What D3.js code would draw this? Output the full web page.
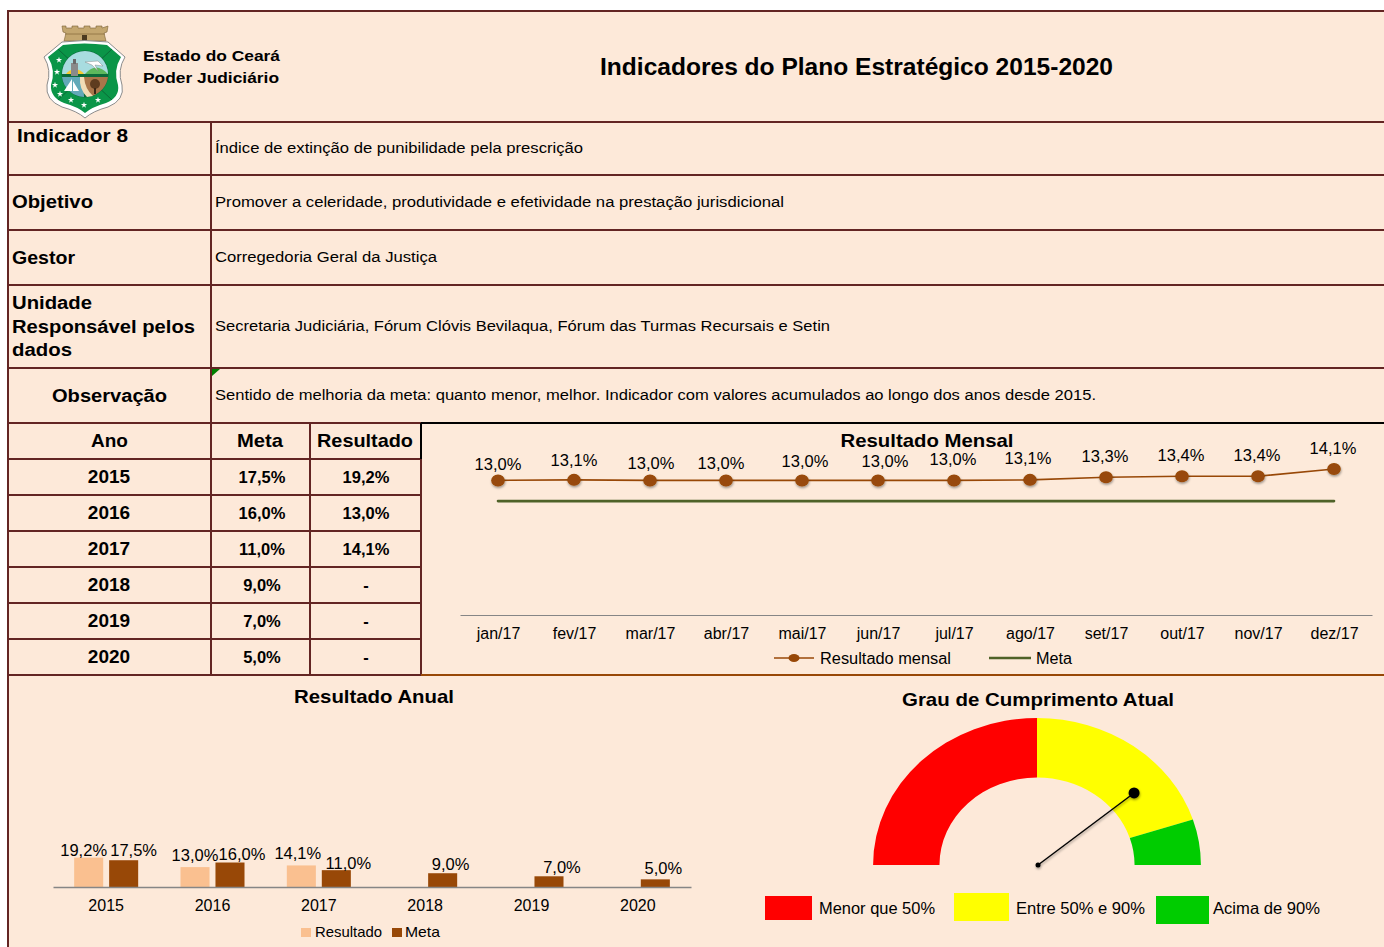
<!DOCTYPE html>
<html>
<head>
<meta charset="utf-8">
<script src="https://cdn.jsdelivr.net/npm/d3@7"></script>
<style>
  html, body { margin: 0; padding: 0; background: #fff; overflow: hidden; }
  svg { display: block; font-family: "Liberation Sans", Arial, sans-serif; }
</style>
</head>
<body>
<svg width="1384" height="947"></svg>
<script>
const years = ['2015', '2016', '2017', '2018', '2019', '2020'];
const metaValues = [17.5, 16.0, 11.0, 9.0, 7.0, 5.0];
const resultValues = [19.2, 13.0, 14.1, null, null, null];

const months = ['jan/17', 'fev/17', 'mar/17', 'abr/17', 'mai/17', 'jun/17',
    'jul/17', 'ago/17', 'set/17', 'out/17', 'nov/17', 'dez/17'];
const monthlyValues = [13.0, 13.05, 13.0, 13.0, 13.0, 13.0, 13.0, 13.05, 13.3, 13.4, 13.4, 14.1];
const monthlyMeta = months.map(() => 11.0);

const gaugeBands = ['Menor que 50%', 'Entre 50% e 90%', 'Acima de 90%'];
const gaugeSizes = [50, 40, 10];
const gaugeValue = 78;

const svg = d3.select('svg');

const BG = '#fde9d9';
const PANEL = '#fdeada';
const BORDER = '#632523';
const BROWN = '#984807';
const PEACH = '#fac090';
const OLIVE = '#4f6228';
const GREY = '#868686';

const br = d3.formatLocale({ decimal: ',', thousands: '.', grouping: [3], currency: ['R$', ''] });
const pct = v => br.format('.1f')(v) + '%';

// Shadow used on the markers and the needle
const defs = svg.append('defs');
defs.append('filter')
    .attr('id', 'shadow')
    .attr('x', '-60%').attr('y', '-60%').attr('width', '220%').attr('height', '220%')
  .append('feDropShadow')
    .attr('dx', 0.5).attr('dy', 1.5).attr('stdDeviation', 1.2)
    .attr('flood-color', '#000').attr('flood-opacity', 0.4);

// Text with a fixed width, the original is slightly stretched
const put = (parent, x, y, str, { size = 15, weight = 'normal', anchor = 'start', width = null } = {}) => {
    const t = parent.append('text')
        .attr('x', x).attr('y', y)
        .attr('font-size', size)
        .attr('font-weight', weight)
        .attr('text-anchor', anchor)
        .attr('fill', '#000')
        .text(str);
    if (width) t.attr('textLength', width).attr('lengthAdjust', 'spacingAndGlyphs');
    return t;
};

// ---------- sheet background and grid ----------
svg.append('rect').attr('x', 8).attr('y', 11).attr('width', 1376).attr('height', 936).attr('fill', BG);
svg.append('rect').attr('x', 422).attr('y', 424).attr('width', 962).attr('height', 250).attr('fill', PANEL);

const rule = (x1, y1, x2, y2, color = BORDER, w = 2) => svg.append('line')
    .attr('x1', x1).attr('y1', y1).attr('x2', x2).attr('y2', y2)
    .attr('stroke', color).attr('stroke-width', w);

rule(8, 11, 1384, 11);
rule(8, 10, 8, 947);
[122, 175, 230, 285, 368].forEach(y => rule(8, y, 1384, y));
[423, 459, 495, 531, 567, 603, 639].forEach(y => rule(8, y, 421, y));
rule(211, 122, 211, 675);
rule(310, 423, 310, 675);
rule(421, 459, 421, 675);
rule(421, 423, 1384, 423, '#000');
rule(421, 423, 421, 459, '#000');
rule(8, 675, 421, 675);
rule(421, 675, 1384, 675, BROWN);

svg.append('path').attr('d', 'M212,369 L220,369 L212,376 Z').attr('fill', '#008000');

// ---------- header ----------
const drawCrest = () => {
    const g = svg.append('g');
    // Castle
    g.append('path')
        .attr('d', 'M62,26 L66,26 L66,28 L72,28 L72,26 L78,26 L78,28 L84,28 L84,26 L90,26 L90,28 L96,28 L96,26 L102,26 L102,28 L108,26 L107,32 L104,33 L106,41 L64,41 L66,33 L63,32 Z')
        .attr('fill', '#c3a66f').attr('stroke', '#7a6236').attr('stroke-width', 0.6);
    g.append('rect').attr('x', 82).attr('y', 35).attr('width', 5).attr('height', 6).attr('fill', '#4b3a20');
    g.append('path').attr('d', 'M65,34 H105').attr('stroke', '#8a7040').attr('stroke-width', 0.8);
    // Shield
    const shield = 'M62,42 Q84,39 108,42 L125,57 Q117,70 122,85 Q125,100 108,107 Q93,111 85,118 Q77,111 62,107 Q45,100 47,85 Q52,70 44,57 Z';
    g.append('path').attr('d', shield).attr('fill', '#fff').attr('stroke', '#8c8c8c').attr('stroke-width', 1);
    g.append('path')
        .attr('d', 'M63,45 Q84,42 107,45 L121,57 Q113,70 118,85 Q120,97 106,103 Q92,107 85,113 Q78,107 64,103 Q50,97 51,85 Q56,70 48,57 Z')
        .attr('fill', '#0a9548');
    g.append('path').attr('d', 'M58,49 L112,100 M112,49 L58,100').attr('stroke', '#0b5e32').attr('stroke-width', 0.8);
    // Centre medallion
    const m = g.append('g').attr('transform', 'translate(0,3)');
    m.append('circle').attr('cx', 85).attr('cy', 71).attr('r', 23.5).attr('fill', '#0b6a3a');
    m.append('path').attr('d', 'M62,71 A23,23 0 0 1 108,71 Z').attr('fill', '#a8dce0');
    m.append('path').attr('d', 'M66,71 A11,11 0 0 1 84,71 Z').attr('fill', '#f6c92c');
    m.append('path').attr('d', 'M85,71 Q96,58 108,71 Z').attr('fill', '#5cb85c');
    m.append('path').attr('d', 'M62,74 H83 L84,94 A23,23 0 0 1 62,74 Z').attr('fill', '#62a9b8');
    m.append('path').attr('d', 'M83,74 H108 A23,23 0 0 1 92,93 Q84,86 83,74 Z').attr('fill', '#a9764a');
    m.append('path').attr('d', 'M84,74 Q85,86 93,93 L87,94 Q79,86 80,74 Z').attr('fill', '#f2dcb5');
    m.append('path').attr('d', 'M72,76 L72,88 L64,88 Z M73,78 L79,88 L73,88 Z').attr('fill', '#fff');
    m.append('rect').attr('x', 71).attr('y', 60).attr('width', 7).attr('height', 13).attr('fill', '#8a8a8a');
    m.append('rect').attr('x', 73).attr('y', 56).attr('width', 3).attr('height', 5).attr('fill', '#6a6a6a');
    m.append('path').attr('d', 'M85,59 L98,58 L103,63 L95,62 L98,68 L92,62 Z').attr('fill', '#fff').attr('stroke', '#777').attr('stroke-width', 0.4);
    m.append('circle').attr('cx', 95).attr('cy', 81).attr('r', 5).attr('fill', '#5e3c1f');
    m.append('rect').attr('x', 94).attr('y', 85).attr('width', 2).attr('height', 6).attr('fill', '#3c2815');
    // Stars round the shield
    const star = d3.symbol().type(d3.symbolStar).size(12);
    [[59, 60], [57, 72], [55, 85], [60, 94], [71, 100], [84, 105], [98, 100]].forEach(p => {
        g.append('path').attr('d', star()).attr('transform', `translate(${p[0]},${p[1]})`).attr('fill', '#fff');
    });
};
drawCrest();

put(svg, 143, 61, 'Estado do Ceará', { size: 15, weight: 'bold', width: 137 });
put(svg, 143, 83, 'Poder Judiciário', { size: 15, weight: 'bold', width: 136 });
put(svg, 600, 75, 'Indicadores do Plano Estratégico 2015-2020', { size: 23, weight: 'bold', width: 513 });

// ---------- description rows ----------
put(svg, 17, 142, 'Indicador 8', { size: 18, weight: 'bold', width: 111 });
put(svg, 12, 208, 'Objetivo', { size: 18, weight: 'bold', width: 81 });
put(svg, 12, 264, 'Gestor', { size: 18, weight: 'bold', width: 63 });
put(svg, 12, 309, 'Unidade', { size: 18, weight: 'bold', width: 80 });
put(svg, 12, 333, 'Responsável pelos', { size: 18, weight: 'bold', width: 183 });
put(svg, 12, 356, 'dados', { size: 18, weight: 'bold', width: 60 });
put(svg, 52, 402, 'Observação', { size: 18, weight: 'bold', width: 115 });

put(svg, 215, 153, 'Índice de extinção de punibilidade pela prescrição', { size: 15.5, width: 368 });
put(svg, 215, 207, 'Promover a celeridade, produtividade e efetividade na prestação jurisdicional', { size: 15.5, width: 569 });
put(svg, 215, 262, 'Corregedoria Geral da Justiça', { size: 15.5, width: 222 });
put(svg, 215, 331, 'Secretaria Judiciária, Fórum Clóvis Bevilaqua, Fórum das Turmas Recursais e Setin', { size: 15.5, width: 615 });
put(svg, 215, 400, 'Sentido de melhoria da meta: quanto menor, melhor. Indicador com valores acumulados ao longo dos anos desde 2015.', { size: 15.5, width: 881 });

// ---------- yearly table ----------
put(svg, 109.5, 447, 'Ano', { size: 19, weight: 'bold', anchor: 'middle' });
put(svg, 260, 447, 'Meta', { size: 19, weight: 'bold', anchor: 'middle', width: 46 });
put(svg, 365, 447, 'Resultado', { size: 19, weight: 'bold', anchor: 'middle', width: 96 });

const rowY = d3.scaleBand().domain(years).range([459, 675]);

const rows = svg.selectAll('.row').data(years).enter().append('g')
    .attr('class', 'row')
    .attr('transform', d => `translate(0,${rowY(d) + 24})`);

rows.append('text').attr('x', 109).attr('font-size', 19).attr('font-weight', 'bold')
    .attr('text-anchor', 'middle').text(d => d);
rows.append('text').attr('x', 262).attr('y', -0.5).attr('font-size', 16.5).attr('font-weight', 'bold')
    .attr('text-anchor', 'middle').text((d, i) => pct(metaValues[i]));
rows.append('text').attr('x', 366).attr('y', -0.5).attr('font-size', 16.5).attr('font-weight', 'bold')
    .attr('text-anchor', 'middle')
    .text((d, i) => resultValues[i] === null ? '-' : pct(resultValues[i]));

// ---------- monthly line chart ----------
put(svg, 927, 447, 'Resultado Mensal', { size: 19, weight: 'bold', anchor: 'middle', width: 173 });

const xMonth = d3.scalePoint().domain(months).range([460, 1372]).padding(0.5);
const yMonth = d3.scaleLinear().domain([0, 14.1]).range([615, 469]);

const monthAxis = svg.append('g')
    .attr('transform', 'translate(0,615)')
    .call(d3.axisBottom(xMonth).tickSize(0).tickPadding(13));
monthAxis.select('.domain').attr('stroke', GREY).attr('stroke-width', 1.2);
monthAxis.selectAll('text').attr('font-size', 16).attr('font-family', 'inherit').attr('fill', '#000');

const monthLine = d3.line().x((d, i) => xMonth(months[i])).y(d => yMonth(d));

svg.append('path').datum(monthlyMeta)
    .attr('d', monthLine).attr('fill', 'none')
    .attr('stroke', OLIVE).attr('stroke-width', 2.6).attr('stroke-linecap', 'round');
svg.append('path').datum(monthlyValues)
    .attr('d', monthLine).attr('fill', 'none')
    .attr('stroke', BROWN).attr('stroke-width', 1.6);

svg.selectAll('.dot').data(monthlyValues).enter().append('ellipse')
    .attr('class', 'dot')
    .attr('cx', (d, i) => xMonth(months[i]))
    .attr('cy', d => yMonth(d))
    .attr('rx', 6.8).attr('ry', 6)
    .attr('fill', BROWN)
    .attr('filter', 'url(#shadow)');

// Label placement was moved by hand in the original sheet
const monthNudgeX = [0, 0, 1, -5, 3, 7, -1, -2, -1, -1, -1, -1];
const monthNudgeY = [-10, -14, -11, -11, -13, -13, -15, -16, -15, -15, -15, -15];

svg.selectAll('.month-label').data(monthlyValues).enter().append('text')
    .attr('class', 'month-label')
    .attr('x', (d, i) => xMonth(months[i]) + monthNudgeX[i])
    .attr('y', (d, i) => yMonth(d) + monthNudgeY[i])
    .attr('text-anchor', 'middle')
    .attr('font-size', 16.5)
    .text(pct);

rule(774, 658, 814, 658, BROWN, 1.6);
svg.append('ellipse').attr('cx', 794).attr('cy', 658).attr('rx', 5.5).attr('ry', 4).attr('fill', BROWN);
put(svg, 820, 664, 'Resultado mensal', { size: 16, width: 131 });
rule(989, 658, 1031, 658, OLIVE, 2.4);
put(svg, 1036, 664, 'Meta', { size: 16, width: 36 });

// ---------- yearly bars ----------
put(svg, 374, 703, 'Resultado Anual', { size: 19, weight: 'bold', anchor: 'middle', width: 160 });

const xYear = d3.scaleBand().domain(years).range([53, 691]);
const xSeries = d3.scaleBand().domain(['Resultado', 'Meta'])
    .range([0, xYear.bandwidth()]).paddingInner(0.17).paddingOuter(0.605);
const yYear = d3.scaleLinear().domain([0, 100]).range([887, 734]);

const barSeries = [
    { name: 'Resultado', values: resultValues, color: PEACH,
      nudgeX: [-5, 0, -3.5, 0, 0, 0], nudgeY: [-2, -6, -6, 0, 0, 0] },
    { name: 'Meta', values: metaValues, color: BROWN,
      nudgeX: [10, 12, 12, 8, 13, 8], nudgeY: [-4, -3, -1, -3, -3, -5] }
];

barSeries.forEach(s => {
    const present = s.values.map((v, i) => ({ v, i })).filter(d => d.v !== null);
    svg.selectAll(`.bar-${s.name}`).data(present).enter().append('rect')
        .attr('class', `bar-${s.name}`)
        .attr('x', d => xYear(years[d.i]) + xSeries(s.name))
        .attr('y', d => yYear(d.v))
        .attr('width', xSeries.bandwidth())
        .attr('height', d => yYear(0) - yYear(d.v))
        .attr('fill', s.color);
    svg.selectAll(`.bar-label-${s.name}`).data(present).enter().append('text')
        .attr('class', `bar-label-${s.name}`)
        .attr('x', d => xYear(years[d.i]) + xSeries(s.name) + xSeries.bandwidth() / 2 + s.nudgeX[d.i])
        .attr('y', d => yYear(d.v) + s.nudgeY[d.i])
        .attr('text-anchor', 'middle')
        .attr('font-size', 16.5)
        .text(d => pct(d.v));
});

const yearAxis = svg.append('g')
    .attr('transform', 'translate(0,887)')
    .call(d3.axisBottom(xYear).tickSize(0).tickPadding(13));
yearAxis.select('.domain').attr('stroke', GREY).attr('stroke-width', 1.5);
yearAxis.selectAll('text').attr('font-size', 16).attr('font-family', 'inherit').attr('fill', '#000');

svg.append('rect').attr('x', 301).attr('y', 928).attr('width', 10).attr('height', 9).attr('fill', PEACH);
put(svg, 315, 937, 'Resultado', { size: 14.5, width: 67 });
svg.append('rect').attr('x', 392).attr('y', 928).attr('width', 10).attr('height', 9).attr('fill', BROWN);
put(svg, 405, 937, 'Meta', { size: 14.5, width: 35 });

// ---------- gauge ----------
put(svg, 1038, 706, 'Grau de Cumprimento Atual', { size: 19, weight: 'bold', anchor: 'middle', width: 272 });

const gaugeColors = d3.scaleOrdinal().domain(gaugeBands).range(['#ff0000', '#ffff00', '#00cc00']);
const pie = d3.pie().sort(null).startAngle(-Math.PI / 2).endAngle(Math.PI / 2);
const arc = d3.arc().innerRadius(87.5).outerRadius(147);
const GAUGE_STRETCH = 1.115;

const gauge = svg.append('g').attr('transform', `translate(1037,865) scale(${GAUGE_STRETCH},1)`);
gauge.selectAll('path').data(pie(gaugeSizes)).enter().append('path')
    .attr('d', arc)
    .attr('fill', (d, i) => gaugeColors(gaugeBands[i]));

const needleAngle = d3.scaleLinear().domain([0, 100]).range([Math.PI, 0]);
const needleX = 1037 + Math.cos(needleAngle(gaugeValue)) * 113 * GAUGE_STRETCH;
const needleY = 865 - Math.sin(needleAngle(gaugeValue)) * 113;

const needle = svg.append('g').attr('filter', 'url(#shadow)');
needle.append('line')
    .attr('x1', 1038).attr('y1', 865).attr('x2', needleX).attr('y2', needleY)
    .attr('stroke', '#000').attr('stroke-width', 1.4);
needle.append('circle').attr('cx', 1038).attr('cy', 865).attr('r', 2.5).attr('fill', '#000');
needle.append('circle').attr('cx', needleX).attr('cy', needleY).attr('r', 5.5).attr('fill', '#000');

const gaugeLegendBoxes = [[765, 896, 47, 24], [954, 893, 55, 28], [1156, 896, 53, 28]];
const gaugeLegendText = [[819, 116], [1016, 129], [1213, 107]];
gaugeBands.forEach((name, i) => {
    const b = gaugeLegendBoxes[i];
    svg.append('rect').attr('x', b[0]).attr('y', b[1]).attr('width', b[2]).attr('height', b[3])
        .attr('fill', gaugeColors(name));
    put(svg, gaugeLegendText[i][0], 914, name, { size: 16.5, width: gaugeLegendText[i][1] });
});
</script>
</body>
</html>
